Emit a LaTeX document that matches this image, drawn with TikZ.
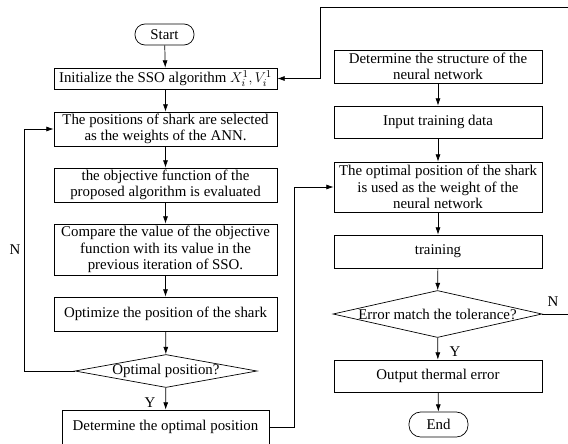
\documentclass[tikz,border=0pt]{standalone}
\usepackage{fontspec}
\setmainfont{Liberation Serif}
\usepackage{tikz}
\usetikzlibrary{positioning,arrows.meta,shapes.geometric,calc}
\tikzset{
  proc/.style={rectangle,draw,line width=0.6pt,minimum width=6.69cm,minimum height=1.02cm,
               inner sep=0pt,align=center},
  procR/.style={proc,minimum width=6.24cm},
  term/.style={rectangle,draw,line width=0.6pt,rounded corners=0.3cm,minimum width=1.77cm,
               minimum height=0.63cm,inner sep=0pt},
  decision/.style={diamond,draw,line width=0.6pt,inner sep=0pt},
  flabel/.style={inner sep=1pt},
  edge/.style={-{Latex[length=2.2mm,width=1.5mm]},line width=0.6pt},
}
\begin{document}
\begin{tikzpicture}[x=0.03cm,y=-0.03cm,font=\fontsize{12.7}{14.2}\selectfont]
  \useasboundingbox (0,0) rectangle (568,443);
  % ---- SSO part (left column) ----
  \node[term] (start) at (164.5,34.5) {Start};
  \node[proc,minimum height=0.63cm] (init) at (165.5,78.5)
    {Initialize the SSO algorithm $X_i^1,V_i^1$};
  \node[proc] (pos) at (165.5,129)
    {The positions of shark are selected\\as the weights of the ANN.};
  \node[proc] (obj) at (165.5,185)
    {the objective function of the\\proposed algorithm is evaluated};
  \node[proc,minimum height=1.53cm] (cmp) at (165.5,249.5)
    {Compare the value of the objective\\function with its value in the\\previous iteration of SSO.};
  \node[proc] (opt) at (165.5,314) {Optimize the position of the shark};
  \node[decision,minimum width=5.46cm,minimum height=0.99cm] (dec1) at (166,371)
    {\makebox[0pt]{Optimal position?}};
  \node[proc,minimum width=6.21cm] (det) at (165.5,427) {Determine the optimal position};
  % ---- ANN part (right column) ----
  \node[procR,minimum height=0.99cm] (struct) at (438,66.5)
    {Determine the structure of the\\neural network};
  \node[procR,minimum height=0.96cm] (input) at (438,122) {Input training data};
  \node[procR,minimum height=1.5cm] (weight) at (438,187)
    {The optimal position of the shark\\is used as the weight of the\\neural network};
  \node[procR,minimum height=0.99cm] (train) at (438,251.5) {training};
  \node[decision,minimum width=6.27cm,minimum height=1.41cm] (dec2) at (437.5,314)
    {\makebox[0pt]{Error match the tolerance?}};
  \node[procR,minimum height=0.96cm] (out) at (438,376) {Output thermal error};
  \node[term,minimum height=0.75cm,rounded corners=0.35cm] (end) at (438.5,424.5) {End};
  % ---- routing points ----
  \coordinate (loopL) at (24,371);
  \coordinate (loopM) at (294,427);
  \coordinate (topR) at (570,7);
  \coordinate (topL) at (320,7);
  % ---- edges ----
  \draw[edge] (start) -- (init);
  \draw[edge] (init) -- (pos);
  \draw[edge] (pos) -- (obj);
  \draw[edge] (obj) -- (cmp);
  \draw[edge] (cmp) -- (opt);
  \draw[edge] (opt) -- (dec1);
  \draw[edge] (dec1) -- (det);
  \node[flabel] at (150,403) {Y};
  \draw[edge] (dec1.west) -- (loopL) |- (pos.west);
  \node[flabel] at (15,250) {N};
  \draw[edge] (det.east) -- (loopM) |- (weight.west);
  \draw[edge] (struct) -- (input);
  \draw[edge] (input) -- (weight);
  \draw[edge] (weight) -- (train);
  \draw[edge] (train) -- (dec2);
  \draw[edge] (dec2) -- (out);
  \node[flabel] at (455,352) {Y};
  \draw[edge] (out) -- (end);
  \draw[edge] (dec2.east) -| (topR) -- (topL) |- (init.east);
  \node[flabel] at (553,302) {N};
\end{tikzpicture}
\end{document}
